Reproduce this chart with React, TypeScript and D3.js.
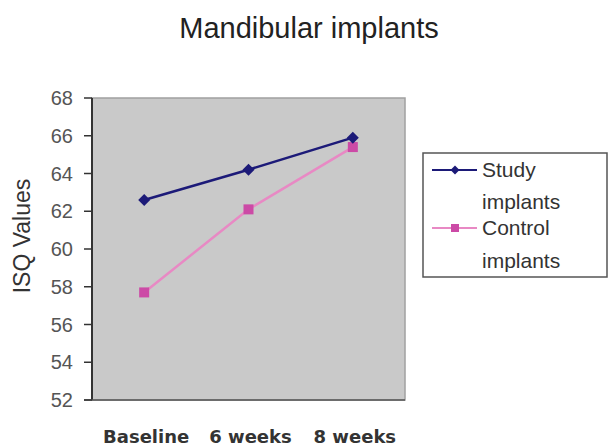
import React from "react";
import * as d3 from "d3";

const categories = ["Baseline", "6 weeks", "8 weeks"];
const studyValues = [62.6, 64.2, 65.9];
const controlValues = [57.7, 62.1, 65.4];
const yTicks = [52, 54, 56, 58, 60, 62, 64, 66, 68];
const seriesNames = ["Study implants", "Control implants"];

const W = 608, H = 448;
const plot = { left: 92, top: 98, right: 405, bottom: 400 };

export default function App() {
  const x = d3.scalePoint<string>().domain(categories).range([plot.left, plot.right]).padding(0.5);
  const y = d3.scaleLinear().domain([52, 68]).range([plot.bottom, plot.top]);
  const line = d3.line<number>().x((_, i) => x(categories[i])!).y((d) => y(d));
  const diamond = (cx: number, cy: number, r: number) =>
    `M${cx},${cy - r}L${cx + r},${cy}L${cx},${cy + r}L${cx - r},${cy}Z`;
  const navy = "#1c1a78";
  const pinkLine = "#e889c4";
  const pinkMark = "#cc4aa6";

  return (
    <svg width={W} height={H} style={{ position: "absolute", left: 0, top: 0, background: "#fff" }}>
      <rect x={0} y={0} width={W} height={H} fill="#fff" />
      <text x={309} y={38} textAnchor="middle" fontFamily="Liberation Sans, Arial" fontSize={29} fill="#222">
        Mandibular implants
      </text>
      <rect x={plot.left} y={plot.top} width={plot.right - plot.left} height={plot.bottom - plot.top}
        fill="#c9c9c9" stroke="#a0a0a0" strokeWidth={1.5} />
      <line x1={plot.left} x2={plot.left} y1={plot.top} y2={plot.bottom} stroke="#333" strokeWidth={2} />
      <line x1={plot.left - 8} x2={plot.right} y1={plot.bottom} y2={plot.bottom} stroke="#555" strokeWidth={1.5} />
      {yTicks.map((t) => (
        <g key={t}>
          <line x1={plot.left - 8} x2={plot.left} y1={y(t)} y2={y(t)} stroke="#333" strokeWidth={1.5} />
          <text x={73} y={y(t) + 7} textAnchor="end" fontFamily="Liberation Sans, Arial" fontSize={20} fill="#555">
            {t}
          </text>
        </g>
      ))}
      <text transform={`translate(30,236) rotate(-90)`} textAnchor="middle" fontFamily="Liberation Sans, Arial"
        fontSize={23} fill="#333">
        ISQ Values
      </text>
      {categories.map((c) => (
        <text key={c} x={x(c)! + 2} y={443} textAnchor="middle" fontFamily="DejaVu Sans, Verdana" fontWeight="bold"
          fontSize={18} fill="#333">
          {c}
        </text>
      ))}
      <path d={line(controlValues)!} fill="none" stroke={pinkLine} strokeWidth={2.5} />
      <path d={line(studyValues)!} fill="none" stroke={navy} strokeWidth={2.5} />
      {controlValues.map((v, i) => (
        <rect key={i} x={x(categories[i])! - 5} y={y(v) - 5} width={10} height={10} fill={pinkMark} />
      ))}
      {studyValues.map((v, i) => (
        <path key={i} d={diamond(x(categories[i])!, y(v), 6)} fill={navy} />
      ))}
      <rect x={423} y={153} width={184} height={124} fill="#fff" stroke="#555" strokeWidth={1.5} />
      <line x1={432} x2={477} y1={170} y2={170} stroke={navy} strokeWidth={2} />
      <path d={diamond(455, 170, 4.5)} fill={navy} />
      <line x1={432} x2={477} y1={228} y2={228} stroke={pinkLine} strokeWidth={2} />
      <rect x={451} y={224} width={8} height={8} fill={pinkMark} />
      {[
        ["Study", 177],
        ["implants", 209],
        ["Control", 235],
        ["implants", 268],
      ].map(([t, yy], i) => (
        <text key={i} x={482} y={yy as number} fontFamily="Liberation Sans, Arial" fontSize={21} fill="#333">
          {t}
        </text>
      ))}
    </svg>
  );
}
